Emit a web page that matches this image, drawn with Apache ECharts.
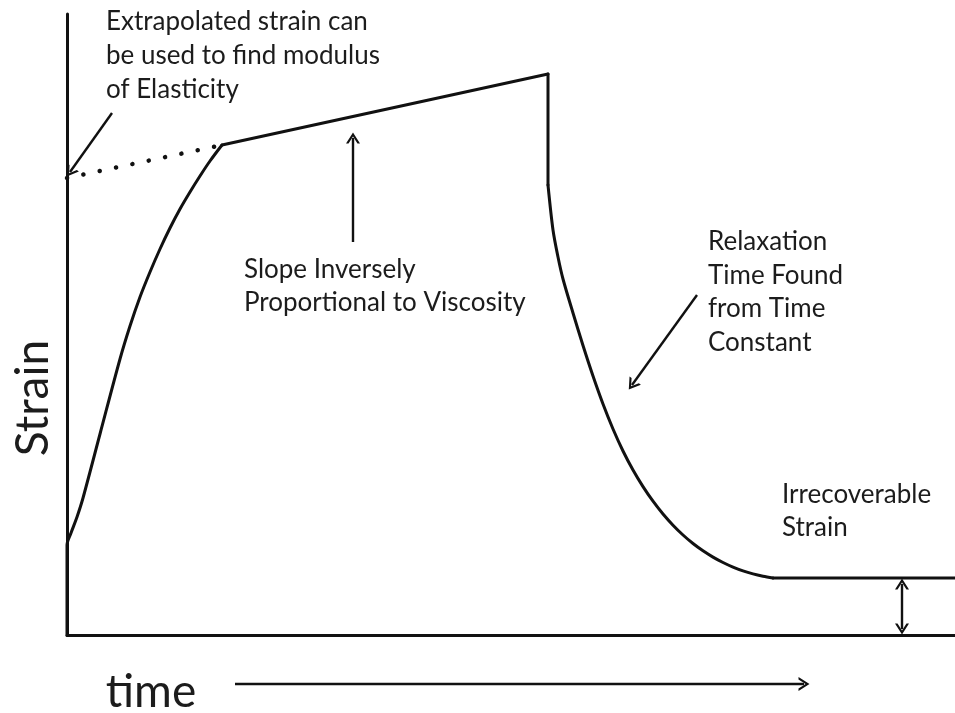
<!DOCTYPE html>
<html>
<head>
<meta charset="utf-8">
<script src="https://cdn.jsdelivr.net/npm/echarts@6/dist/echarts.min.js"></script>
<style>html,body{margin:0;padding:0;background:#fff}#c{width:955px;height:713px}</style>
</head>
<body>
<div id="c"></div>
<script>
// Arbitrary units (time, strain)
const riseCurve = [[0,0],[0,90],[4,102],[10,118],[16,137],[33,201],[53,276],[63,309],[73,338],[83,363],[93,386],[103,407],[113,426],[123,443],[133,459],[143,474],[155,490]];
const creepLine = [[155,490],[481,561]];
const unloadDrop = [[481,561],[481,450]];
const recoveryCurve = [[481,450],[486,405],[491,378],[496,356],[506,322],[516,289.5],[526,259],[536,231],[546,206],[556,184],[566,165],[576,148.4],[586,133.8],[596,121],[606,109.8],[616,100],[626,91.5],[636,84.2],[646,77.9],[656,72.5],[666,67.9],[676,64.1],[686,61.1],[696,58.8],[706,57]];
const permanentSet = [[706,57],[888,57]];
const extrapolated = [[0,457],[155,490]];

// annotation arrows [from, to]
const arrowElastic = [[45,522],[3,463]];
const arrowSlope = [[286,393],[286,497]];
const arrowRelax = [[630,340],[565,250]];
const arrowIrrecov = [[835,6],[835,51]];
const arrowTime = [[168,0],[737,0]];

const labels = {
  elastic: 'Extrapolated strain can\nbe used to find modulus\nof Elasticity',
  slope: 'Slope Inversely\nProportional to Viscosity',
  relax: 'Relaxation\nTime Found\nfrom Time\nConstant',
  irrecov: 'Irrecoverable\nStrain',
  yName: 'Strain',
  xName: 'time'
};

const INK = '#111';
const TXT = '#1c1c1c';
const FONT = 'Lato, "Open Sans", sans-serif';
const chev = 'path://M0,10 L5,0 L10,10 L8.2,10 L5,3.6 L1.8,10 Z';

function arrowLine(pair, both) {
  return {
    silent: true,
    symbol: both ? [chev, chev] : ['none', chev],
    symbolSize: [14, 11],
    label: {show: false},
    lineStyle: {color: INK, width: 2.4, type: 'solid'},
    itemStyle: {color: INK},
    emphasis: {disabled: true},
    data: [[{coord: pair[0]}, {coord: pair[1]}]]
  };
}

function seg(data, smooth, extra) {
  return Object.assign({
    type: 'line', data: data, smooth: smooth, showSymbol: false, symbol: 'none',
    clip: false, silent: true, animation: false,
    lineStyle: {color: INK, width: 3, cap: 'round', join: 'round'}
  }, extra || {});
}

function txt(x, y, text, size, lh) {
  return {type: 'text', x: x, y: y, silent: true,
    style: {text: text, font: size + 'px ' + FONT, fill: TXT, lineHeight: lh, verticalAlign: 'top', align: 'left'}};
}

const chart = echarts.init(document.getElementById('c'), null, {renderer: 'canvas'});
chart.setOption({
  animation: false,
  backgroundColor: '#fff',
  grid: [
    {left: 67, right: 0, top: 14, bottom: 78},
    {left: 67, right: 0, top: 664, height: 40}
  ],
  xAxis: [
    {type: 'value', min: 0, max: 888, gridIndex: 0,
      axisLine: {show: true, onZero: false, lineStyle: {color: INK, width: 3}},
      axisTick: {show: false}, axisLabel: {show: false}, splitLine: {show: false}},
    {type: 'value', min: 0, max: 888, gridIndex: 1, show: false}
  ],
  yAxis: [
    {type: 'value', min: 0, max: 621, gridIndex: 0,
      axisLine: {show: true, onZero: false, lineStyle: {color: INK, width: 3}},
      axisTick: {show: false}, axisLabel: {show: false}, splitLine: {show: false}},
    {type: 'value', min: -20, max: 20, gridIndex: 1, show: false}
  ],
  series: [
    seg(riseCurve, 0.3),
    seg(creepLine, false),
    seg(unloadDrop, false),
    seg(recoveryCurve, 0.3),
    seg(permanentSet, false, {markLine: arrowLine(arrowIrrecov, true)}),
    seg(extrapolated, false, {
      lineStyle: {color: INK, width: 4.5, type: [0.1, 16.6], cap: 'round'},
      markLine: arrowLine(arrowElastic, false)
    }),
    seg([], false, {markLine: arrowLine(arrowSlope, false)}),
    seg([], false, {markLine: arrowLine(arrowRelax, false)}),
    seg([], false, {xAxisIndex: 1, yAxisIndex: 1, markLine: arrowLine(arrowTime, false)})
  ],
  graphic: [
    txt(106, 5, labels.elastic, 26, 34),
    txt(244, 253.5, labels.slope, 26, 33),
    txt(708, 225, labels.relax, 26, 33.5),
    txt(782, 478.5, labels.irrecov, 26, 33),
    {type: 'text', x: 33, y: 398, rotation: Math.PI / 2, silent: true, style: {text: labels.yName, font: '46px ' + FONT, fill: TXT, verticalAlign: 'middle', align: 'center'}},
    {type: 'text', x: 151, y: 692, silent: true, style: {text: labels.xName, font: '46px ' + FONT, fill: TXT, verticalAlign: 'middle', align: 'center'}}
  ]
});
</script>
</body>
</html>
